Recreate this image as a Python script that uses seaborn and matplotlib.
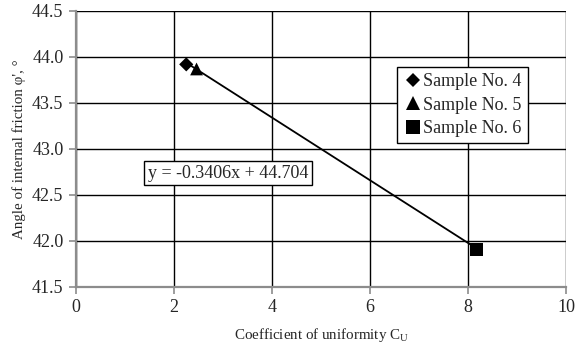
import matplotlib
matplotlib.use("Agg")
import matplotlib.pyplot as plt
import seaborn as sns
import pandas as pd
import numpy as np

# Data
samples = ["Sample No. 4", "Sample No. 5", "Sample No. 6"]
cu_values = [2.25, 2.46, 8.18]
phi_values = [43.92, 43.87, 41.91]
markers_list = ["D", "^", "s"]
slope = -0.3406
intercept = 44.704
x_ticks = [0, 2, 4, 6, 8, 10]
y_ticks = [41.5, 42.0, 42.5, 43.0, 43.5, 44.0, 44.5]

sns.set_theme(style="white")
plt.rcParams['font.family'] = ['Liberation Serif', 'DejaVu Serif']
plt.rcParams['mathtext.fontset'] = 'custom'
plt.rcParams['mathtext.rm'] = 'Liberation Serif'

df = pd.DataFrame({"cu": cu_values, "phi": phi_values, "sample": samples})

fig = plt.figure(figsize=(5.8, 3.47), dpi=100)
ax = fig.add_axes([76/580, 1 - 287/347, 490/580, 276/347])

# trendline
xl = np.array([min(cu_values), max(cu_values)])
ax.plot(xl, slope * xl + intercept, color="black", lw=1.3, zorder=3)

sns.scatterplot(data=df, x="cu", y="phi", hue="sample", style="sample",
                markers=dict(zip(samples, markers_list)),
                palette=["black"] * 3, s=80, ax=ax, zorder=4,
                edgecolor="black", linewidth=0)
ax.collections[0].set_sizes([52, 85, 90])

ax.set_xlim(0, 10)
ax.set_ylim(41.5, 44.5)
ax.set_xticks(x_ticks)
ax.set_yticks(y_ticks)
ax.set_xticklabels([str(t) for t in x_ticks])
ax.set_yticklabels([f"{t:.1f}" for t in y_ticks])
ax.grid(True, color="black", lw=1.0)
ax.set_axisbelow(True)
for s in ["top", "right"]:
    ax.spines[s].set_visible(False)
for s in ["left", "bottom"]:
    ax.spines[s].set_color("#8c8c8c")
    ax.spines[s].set_linewidth(1.6)
ax.tick_params(axis="both", which="both", direction="out", length=5, width=1.2,
               color="#8c8c8c", labelsize=13, pad=4, left=True, bottom=True)
ax.set_xlabel("Coefficient of uniformity C$_\\mathregular{U}$", fontsize=10.8, labelpad=7)
ax.set_ylabel("Angle of internal friction φ', °", fontsize=10.8, labelpad=4)

handles, labels = ax.get_legend_handles_labels()
for h, ms in zip(handles, [7, 9.5, 9.5]):
    h.set_markersize(ms)
leg = ax.legend(handles=handles, labels=labels, loc="upper left",
                bbox_to_anchor=((397 - 76) / 490, (287 - 67) / 276),
                frameon=True, fancybox=False, framealpha=1, edgecolor="black",
                fontsize=13, handletextpad=0.0, handlelength=1.1,
                borderpad=0.35, labelspacing=0.35, borderaxespad=0)
leg.get_frame().set_linewidth(1.0)

ax.text((148 - 76) / 490, (287 - 173) / 276,
        "y = -0.3406x + 44.704", transform=ax.transAxes, fontsize=13,
        va="center", ha="left",
        bbox=dict(boxstyle="square,pad=0.2", fc="white", ec="black", lw=1.0),
        zorder=5)

fig.savefig("out.png", dpi=100)
